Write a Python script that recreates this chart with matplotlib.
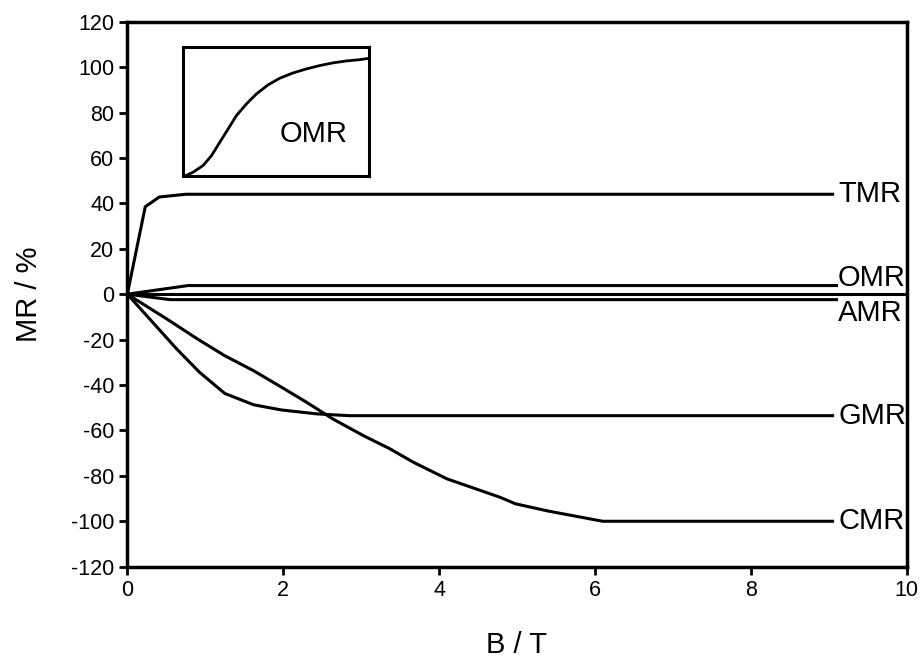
import matplotlib
matplotlib.use("Agg")
import matplotlib.pyplot as plt

plt.rcParams['font.family'] = ['Liberation Sans', 'DejaVu Sans']
plt.rcParams['axes.unicode_minus'] = False

# field B (T) and magnetoresistance MR (%) for each effect
tmr_b = [0, 0.23, 0.41, 0.75, 9.05]
tmr_mr = [0, 38.5, 42.8, 44, 44]

omr_b = [0, 0.78, 9.1]
omr_mr = [0, 3.8, 3.8]

amr_b = [0, 0.55, 9.1]
amr_mr = [0, -2.4, -2.4]

gmr_b = [0, 0.63, 0.93, 1.25, 1.62, 1.98, 2.43, 2.84, 9.05]
gmr_mr = [0, -24.0, -34.5, -43.7, -48.7, -51, -52.7, -53.5, -53.5]

cmr_b = [0, 0.51, 0.89, 1.25, 1.62, 1.98, 2.30, 2.64, 3.03, 3.37, 3.67,
         4.10, 4.78, 4.98, 5.4, 6.1, 9.05]
cmr_mr = [0, -11, -19.5, -27.1, -33.7, -41, -47.6, -55, -62.3, -68.1, -74,
          -81.3, -89.4, -92.3, -95.5, -100, -100]

# inset: OMR shape on normalised axes
inset_x = [0.012, 0.057, 0.11, 0.155, 0.199, 0.244, 0.288, 0.342, 0.395,
           0.457, 0.52, 0.591, 0.662, 0.733, 0.804, 0.875, 0.947, 1.0]
inset_y = [0.0, 0.031, 0.083, 0.16, 0.263, 0.367, 0.47, 0.561, 0.638,
           0.708, 0.76, 0.801, 0.832, 0.858, 0.879, 0.894, 0.904, 0.915]

labels = ['TMR', 'OMR', 'AMR', 'GMR', 'CMR']
label_y = [44, 7.3, -8.1, -53.5, -100]

fig = plt.figure(figsize=(9.24, 6.67), dpi=100)
ax = fig.add_axes([0.1378, 0.1504, 0.8434, 0.8171])

lw = 2.2
ax.axhline(0, color='black', lw=lw)
for bx, my in [(tmr_b, tmr_mr), (omr_b, omr_mr), (amr_b, amr_mr),
               (gmr_b, gmr_mr), (cmr_b, cmr_mr)]:
    ax.plot(bx, my, color='black', lw=lw, solid_joinstyle='round')

for name, yy in zip(labels, label_y):
    ax.text(9.12, yy, name, fontsize=21, va='center', ha='left')

ax.set_xlim(0, 10)
ax.set_ylim(-120, 120)
ax.set_xticks(range(0, 11, 2))
ax.set_yticks(range(-120, 121, 20))
ax.tick_params(direction='out', length=6, width=2, labelsize=15.5, top=False, right=False)
for s in ax.spines.values():
    s.set_linewidth(2.5)
ax.set_xlabel('B / T', fontsize=21, labelpad=22)
ax.set_ylabel('MR / %', fontsize=21, labelpad=20)

ins = ax.inset_axes([0.71, 52, 2.395, 56.7], transform=ax.transData)
ins.plot(inset_x, inset_y, color='black', lw=2, solid_joinstyle='round')
ins.set_xlim(0, 1)
ins.set_ylim(0, 1)
ins.set_xticks([])
ins.set_yticks([])
for s in ins.spines.values():
    s.set_linewidth(2.2)
ins.text(0.70, 0.33, 'OMR', fontsize=21, ha='center', va='center', transform=ins.transAxes)

fig.savefig('out.png', dpi=100)
